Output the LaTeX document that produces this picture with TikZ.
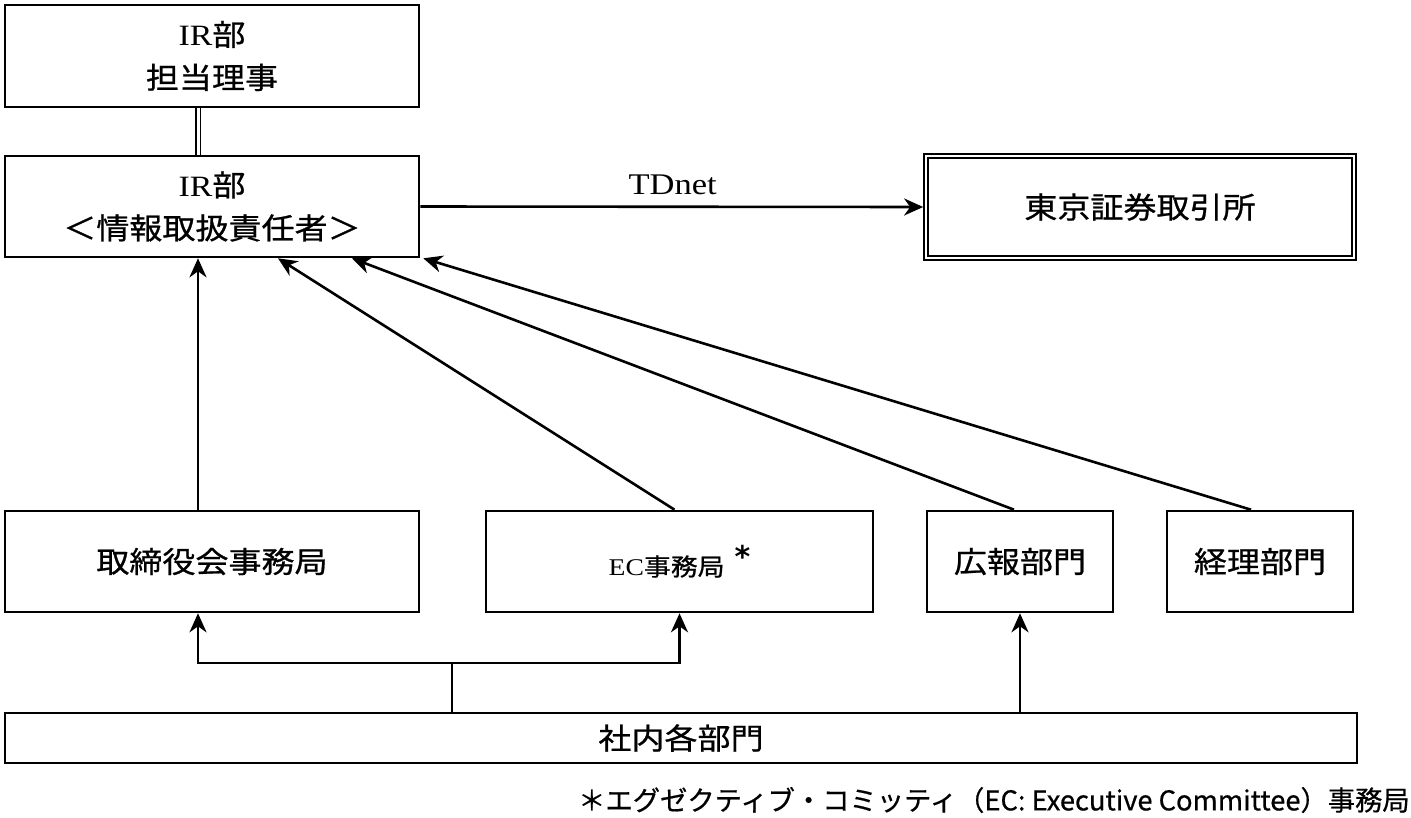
\documentclass[tikz,border=0pt]{standalone}
\usepackage{fontspec}
\setmainfont{Liberation Serif}
\newfontfamily\jp[FakeStretch=1.12,FakeBold=0.8]{Noto Sans CJK JP}
\newfontfamily\lat[FakeStretch=1.15]{Liberation Serif}
\newfontfamily\jpn[FakeBold=0.6]{Noto Sans CJK JP}
\newfontfamily\dv{DejaVu Sans}
\usetikzlibrary{arrows.meta}
\begin{document}
\begin{tikzpicture}[x=1pt,y=-1pt,
  box/.style={draw,line width=2.6pt,rectangle,inner sep=0pt,align=center,
    font=\fontsize{29.5}{43}\selectfont},
  arr/.style={line width=2.6pt,-{Stealth[length=19pt,width=17pt,inset=6pt]}},
  conn/.style={line width=2.6pt}]
\useasboundingbox (0,0) rectangle (1411,817);
\node[box,minimum width=414pt,minimum height=102pt] (top) at (212,56)
  {{\lat IR}{\jp 部}\\{\jp 担当理事}};
\node[box,minimum width=414pt,minimum height=101pt] (ir) at (212,206.5)
  {{\lat IR}{\jp 部}\\{\jp ＜情報取扱責任者＞}};
\node[box,double,line width=1.7pt,double distance=2.6pt,minimum width=428pt,minimum height=102pt] (tse) at (1140,207)
  {\jp 東京証券取引所};
\node[box,minimum width=414pt,minimum height=101pt] (bod) at (212,561.5)
  {\jp 取締役会事務局};
\node[box,minimum width=387pt,minimum height=101pt] (ec) at (679.5,561.5)
  {\fontsize{24}{28}\selectfont{\lat EC}{\jp 事務局}\hspace{10pt}\raisebox{8pt}{\dv\bfseries\fontsize{30}{30}\selectfont *}};
\node[box,minimum width=186pt,minimum height=101pt] (pr) at (1020,561.5)
  {\jp 広報部門};
\node[box,minimum width=186pt,minimum height=101pt] (acc) at (1260,561.5)
  {\jp 経理部門};
\node[box,minimum width=1352pt,minimum height=50pt] (all) at (681,738)
  {\jp 社内各部門};
\node[anchor=west,inner sep=0pt,font=\jpn\fontsize{27.3}{30}\selectfont] (note) at (578,800)
  {＊エグゼクティブ・コミッティ（EC: Executive Committee）事務局};
% connectors
\draw[line width=1.5pt,double,double distance=3pt] ([xshift=-14pt]top.south) -- ([xshift=-14pt]ir.north);
\draw[arr,shorten >=2pt] (ir.east) -- node[above=7pt,font=\lat\fontsize{30}{32}\selectfont] (tdnet) {TDnet} (tse.west);
\draw[arr] ([xshift=-14pt]bod.north) -- ([xshift=-14pt]ir.south);
\draw[arr] ([xshift=-5pt]ec.north) -- ([xshift=66pt]ir.south);
\draw[arr] ([xshift=-6pt]pr.north) -- ([xshift=140pt]ir.south);
\draw[arr] ([xshift=-9pt]acc.north) -- ([xshift=3pt]ir.south east);
\coordinate (j) at (452,663);
\draw[conn] (all.north -| j) -- (j);
\draw[arr] (j) -| ([xshift=-14pt]bod.south);
\draw[arr] (j) -| (ec.south);
\draw[arr] (all.north -| pr.south) -- (pr.south);
\end{tikzpicture}
\end{document}
